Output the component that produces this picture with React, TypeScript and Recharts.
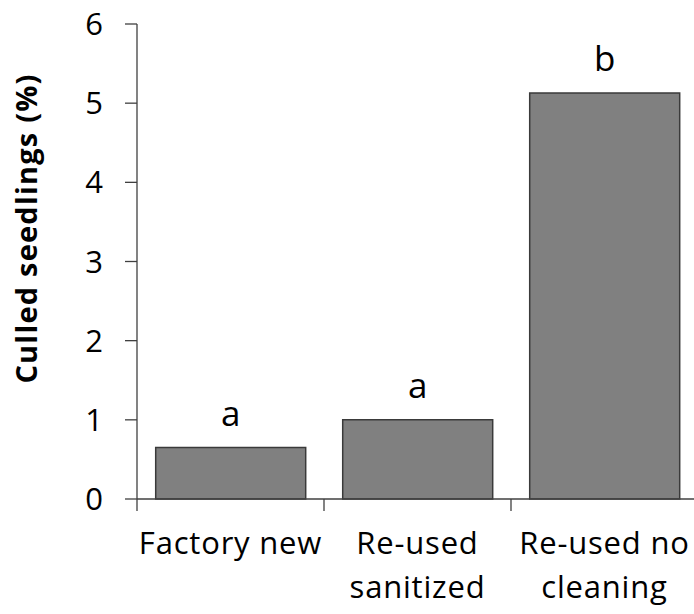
import React from 'react';
import { BarChart, Bar, XAxis, YAxis, LabelList } from 'recharts';

const categories = ['Factory new', 'Re-used\nsanitized', 'Re-used no\ncleaning'];
const culled = [0.65, 1.0, 5.13];
const letters = ['a', 'a', 'b'];
const yTicks = [0, 1, 2, 3, 4, 5, 6];

const data = categories.map((name, i) => ({ name, value: culled[i], letter: letters[i] }));

const FONT = '"Open Sans", sans-serif';
const AXIS = '#404040';

function CategoryTick(props: any) {
  const { x, y, payload } = props;
  const half = payload && payload.offset ? payload.offset : 0;
  const lines = String(payload.value).split('\n');
  return (
    <g>
      <line x1={x - half} y1={y} x2={x - half} y2={y + 12} stroke={AXIS} strokeWidth={1.3} />
      <text x={x} y={y} textAnchor="middle" fill="#000" fontFamily={FONT} fontSize={31} letterSpacing={0.8}>
        {lines.map((l, i) => (
          <tspan key={i} x={x} y={y + 55 + i * 44}>{l}</tspan>
        ))}
      </text>
    </g>
  );
}

function LetterLabel(props: any) {
  const { x, y, width, value } = props;
  return (
    <text x={x + width / 2} y={y - 22} textAnchor="middle" fill="#000" fontFamily={FONT} fontSize={35}>
      {value}
    </text>
  );
}

export default function App() {
  return (
    <div style={{ position: 'absolute', left: 0, top: 0, width: 694, height: 614, overflow: 'hidden', background: '#fff' }}>
      <BarChart
        width={698}
        height={614}
        data={data}
        margin={{ top: 24, right: 0, left: 0, bottom: 0 }}
        barCategoryGap="10%"
      >
        <XAxis
          dataKey="name"
          height={115}
          interval={0}
          tickLine={false}
          tickSize={0}
          tickMargin={0}
          axisLine={{ stroke: AXIS, strokeWidth: 1.3 }}
          tick={<CategoryTick />}
        />
        <YAxis
          width={137}
          domain={[0, 6]}
          ticks={yTicks}
          interval={0}
          tickSize={12}
          tickMargin={22}
          tickLine={{ stroke: AXIS, strokeWidth: 1.3 }}
          axisLine={{ stroke: AXIS, strokeWidth: 1.3 }}
          tick={{ fill: '#000', fontSize: 31, fontFamily: FONT }}
          label={{
            value: 'Culled seedlings (%)',
            angle: -90,
            position: 'insideLeft',
            dx: 22,
            dy: -33,
            fill: '#000',
            fontSize: 29,
            fontWeight: 'bold',
            fontFamily: FONT,
            letterSpacing: 1.2,
            style: { textAnchor: 'middle', letterSpacing: 1.2 },
          }}
        />
        <Bar dataKey="value" fill="#808080" stroke="#3a3a3a" strokeWidth={1.5} isAnimationActive={false}>
          <LabelList dataKey="letter" content={<LetterLabel />} />
        </Bar>
      </BarChart>
    </div>
  );
}
